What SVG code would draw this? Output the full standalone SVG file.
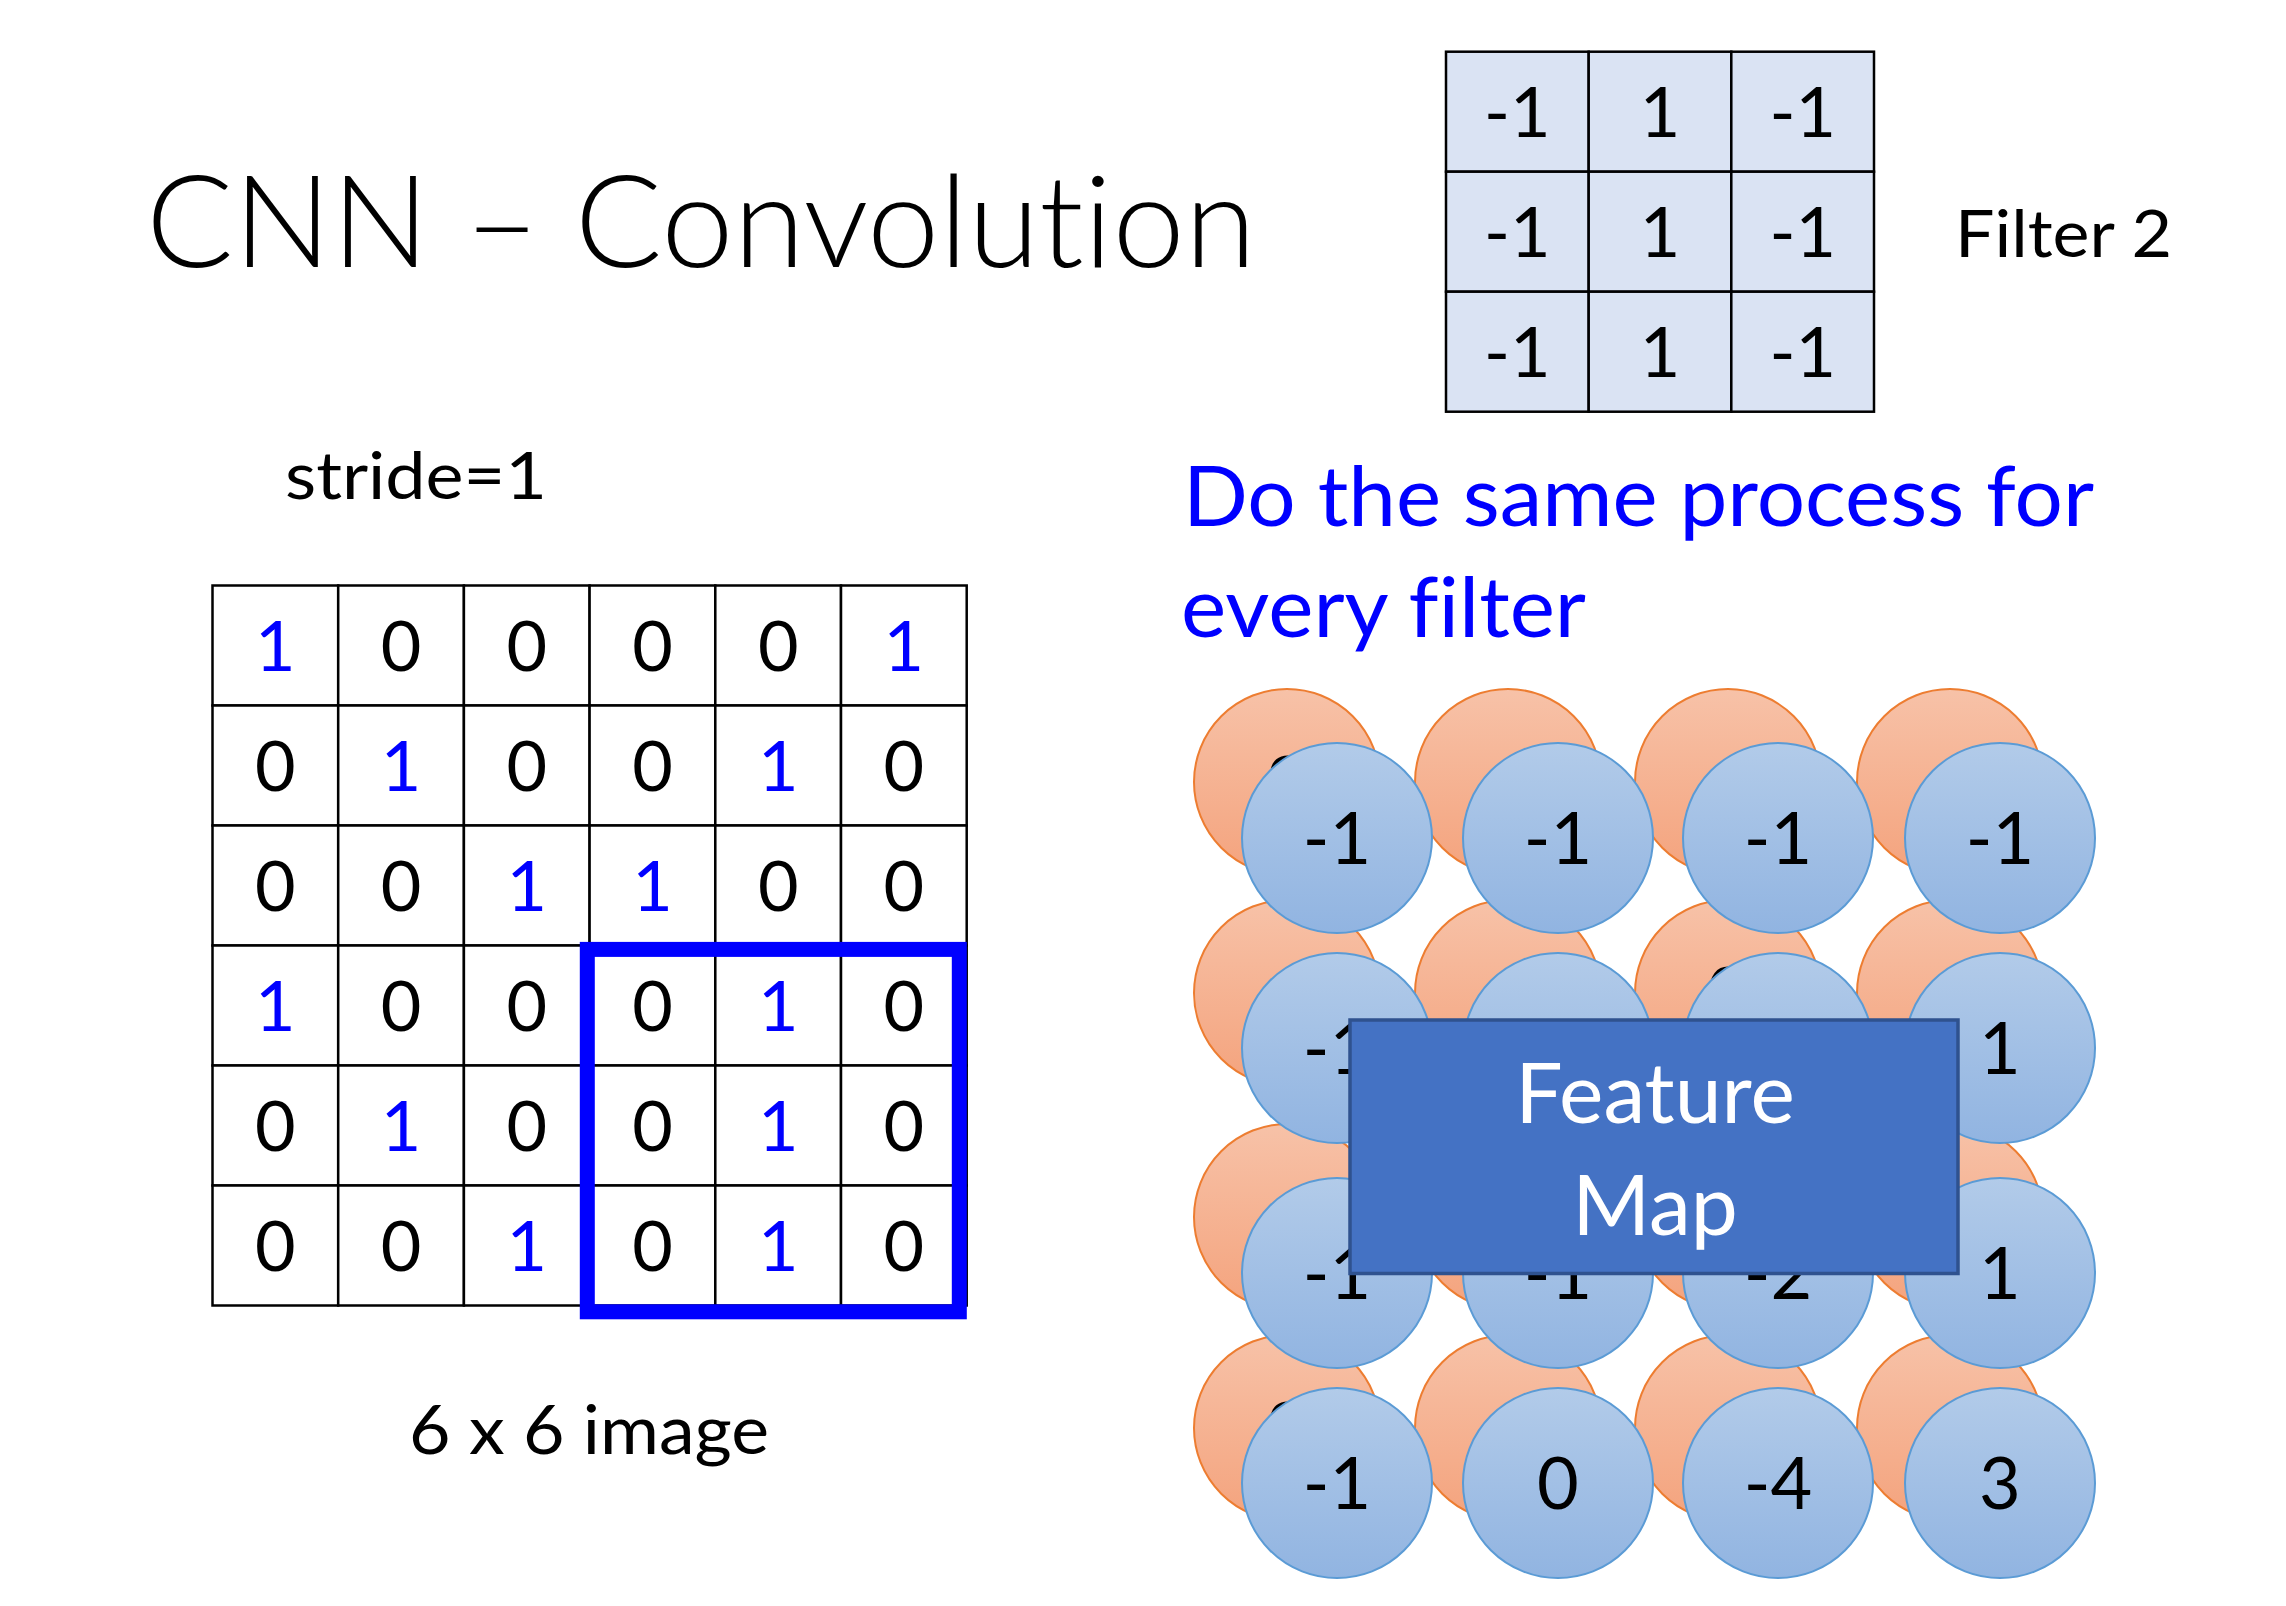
<svg xmlns="http://www.w3.org/2000/svg" width="2286" height="1606" viewBox="0 0 2286 1606">
  <defs>
    <linearGradient id="gradBlue" x1="0" y1="0" x2="0" y2="1">
      <stop offset="0" stop-color="#B2CBE9"/>
      <stop offset="1" stop-color="#91B4E1"/>
    </linearGradient>
    <linearGradient id="gradOrange" x1="0" y1="0" x2="0" y2="1">
      <stop offset="0" stop-color="#F7C2A8"/>
      <stop offset="1" stop-color="#F4A37D"/>
    </linearGradient>
    <style>
      .txt { font-family: Lato, "Open Sans", "Noto Sans", sans-serif; fill: #000; font-variant-ligatures: none; }
      .title { font-weight: 300; font-size: 128px; }
      .label { font-size: 66px; }
      .note { font-size: 83px; fill: #0000FF; }
      .num { font-size: 70px; text-anchor: middle; }
      .one { fill: #0000FF; }
      .cnum { font-size: 72px; text-anchor: middle; }
      .cell { fill: #FFFFFF; stroke: #000; stroke-width: 2.5; }
      .fcell { fill: #DAE3F3; stroke: #000; stroke-width: 2.5; }
      .orange { fill: url(#gradOrange); stroke: #ED7D31; stroke-width: 2; }
      .blue { fill: url(#gradBlue); stroke: #5B9BD5; stroke-width: 2; }
      .fmtext { font-size: 84px; fill: #FFFFFF; text-anchor: middle; }
    </style>
  </defs>

  <rect x="0" y="0" width="2286" height="1606" fill="#FFFFFF"/>

  <!-- headings -->
  <g id="title">
    <text class="txt title" x="146" y="267" textLength="1110" lengthAdjust="spacingAndGlyphs">CNN – Convolution</text>
  </g>
  <g id="stride-label">
    <text class="txt label" x="285" y="499" textLength="262" lengthAdjust="spacingAndGlyphs">stride=1</text>
  </g>
  <g id="note">
    <text class="txt note" x="1183" y="526" textLength="911" lengthAdjust="spacingAndGlyphs">Do the same process for</text>
    <text class="txt note" x="1181" y="637" textLength="405" lengthAdjust="spacingAndGlyphs">every filter</text>
  </g>
  <g id="image-label">
    <text class="txt label" x="409" y="1454" textLength="360" lengthAdjust="spacingAndGlyphs" style="font-size:68px">6 x 6 image</text>
  </g>

  <!-- 3x3 filter -->
  <g id="filter2">
    <rect class="fcell" x="1446" y="51.7" width="142.7" height="120"/>
    <rect class="fcell" x="1588.7" y="51.7" width="142.6" height="120"/>
    <rect class="fcell" x="1731.3" y="51.7" width="142.7" height="120"/>
    <rect class="fcell" x="1446" y="171.7" width="142.7" height="120"/>
    <rect class="fcell" x="1588.7" y="171.7" width="142.6" height="120"/>
    <rect class="fcell" x="1731.3" y="171.7" width="142.7" height="120"/>
    <rect class="fcell" x="1446" y="291.7" width="142.7" height="120"/>
    <rect class="fcell" x="1588.7" y="291.7" width="142.6" height="120"/>
    <rect class="fcell" x="1731.3" y="291.7" width="142.7" height="120"/>
    <text class="txt num" x="1517.3" y="136.7">-1</text>
    <text class="txt num" x="1660" y="136.7">1</text>
    <text class="txt num" x="1802.7" y="136.7">-1</text>
    <text class="txt num" x="1517.3" y="256.7">-1</text>
    <text class="txt num" x="1660" y="256.7">1</text>
    <text class="txt num" x="1802.7" y="256.7">-1</text>
    <text class="txt num" x="1517.3" y="376.7">-1</text>
    <text class="txt num" x="1660" y="376.7">1</text>
    <text class="txt num" x="1802.7" y="376.7">-1</text>
  </g>
  <g id="filter2-label">
    <text class="txt label" x="1955" y="256.7" textLength="217" lengthAdjust="spacingAndGlyphs">Filter 2</text>
  </g>

  <!-- 6x6 input image -->
  <g id="image">
    <g id="image-cells">
      <rect class="cell" x="212.5" y="585.5" width="125.7" height="120"/>
      <rect class="cell" x="338.2" y="585.5" width="125.7" height="120"/>
      <rect class="cell" x="463.9" y="585.5" width="125.7" height="120"/>
      <rect class="cell" x="589.6" y="585.5" width="125.7" height="120"/>
      <rect class="cell" x="715.3" y="585.5" width="125.7" height="120"/>
      <rect class="cell" x="841" y="585.5" width="125.7" height="120"/>
      <rect class="cell" x="212.5" y="705.5" width="125.7" height="120"/>
      <rect class="cell" x="338.2" y="705.5" width="125.7" height="120"/>
      <rect class="cell" x="463.9" y="705.5" width="125.7" height="120"/>
      <rect class="cell" x="589.6" y="705.5" width="125.7" height="120"/>
      <rect class="cell" x="715.3" y="705.5" width="125.7" height="120"/>
      <rect class="cell" x="841" y="705.5" width="125.7" height="120"/>
      <rect class="cell" x="212.5" y="825.5" width="125.7" height="120"/>
      <rect class="cell" x="338.2" y="825.5" width="125.7" height="120"/>
      <rect class="cell" x="463.9" y="825.5" width="125.7" height="120"/>
      <rect class="cell" x="589.6" y="825.5" width="125.7" height="120"/>
      <rect class="cell" x="715.3" y="825.5" width="125.7" height="120"/>
      <rect class="cell" x="841" y="825.5" width="125.7" height="120"/>
      <rect class="cell" x="212.5" y="945.5" width="125.7" height="120"/>
      <rect class="cell" x="338.2" y="945.5" width="125.7" height="120"/>
      <rect class="cell" x="463.9" y="945.5" width="125.7" height="120"/>
      <rect class="cell" x="589.6" y="945.5" width="125.7" height="120"/>
      <rect class="cell" x="715.3" y="945.5" width="125.7" height="120"/>
      <rect class="cell" x="841" y="945.5" width="125.7" height="120"/>
      <rect class="cell" x="212.5" y="1065.5" width="125.7" height="120"/>
      <rect class="cell" x="338.2" y="1065.5" width="125.7" height="120"/>
      <rect class="cell" x="463.9" y="1065.5" width="125.7" height="120"/>
      <rect class="cell" x="589.6" y="1065.5" width="125.7" height="120"/>
      <rect class="cell" x="715.3" y="1065.5" width="125.7" height="120"/>
      <rect class="cell" x="841" y="1065.5" width="125.7" height="120"/>
      <rect class="cell" x="212.5" y="1185.5" width="125.7" height="120"/>
      <rect class="cell" x="338.2" y="1185.5" width="125.7" height="120"/>
      <rect class="cell" x="463.9" y="1185.5" width="125.7" height="120"/>
      <rect class="cell" x="589.6" y="1185.5" width="125.7" height="120"/>
      <rect class="cell" x="715.3" y="1185.5" width="125.7" height="120"/>
      <rect class="cell" x="841" y="1185.5" width="125.7" height="120"/>
    </g>
    <g id="image-values">
      <text class="txt num one" x="275.4" y="670.5">1</text>
      <text class="txt num" x="401.1" y="670.5">0</text>
      <text class="txt num" x="526.8" y="670.5">0</text>
      <text class="txt num" x="652.5" y="670.5">0</text>
      <text class="txt num" x="778.2" y="670.5">0</text>
      <text class="txt num one" x="903.9" y="670.5">1</text>

      <text class="txt num" x="275.4" y="790.5">0</text>
      <text class="txt num one" x="401.1" y="790.5">1</text>
      <text class="txt num" x="526.8" y="790.5">0</text>
      <text class="txt num" x="652.5" y="790.5">0</text>
      <text class="txt num one" x="778.2" y="790.5">1</text>
      <text class="txt num" x="903.9" y="790.5">0</text>

      <text class="txt num" x="275.4" y="910.5">0</text>
      <text class="txt num" x="401.1" y="910.5">0</text>
      <text class="txt num one" x="526.8" y="910.5">1</text>
      <text class="txt num one" x="652.5" y="910.5">1</text>
      <text class="txt num" x="778.2" y="910.5">0</text>
      <text class="txt num" x="903.9" y="910.5">0</text>

      <text class="txt num one" x="275.4" y="1030.5">1</text>
      <text class="txt num" x="401.1" y="1030.5">0</text>
      <text class="txt num" x="526.8" y="1030.5">0</text>
      <text class="txt num" x="652.5" y="1030.5">0</text>
      <text class="txt num one" x="778.2" y="1030.5">1</text>
      <text class="txt num" x="903.9" y="1030.5">0</text>

      <text class="txt num" x="275.4" y="1150.5">0</text>
      <text class="txt num one" x="401.1" y="1150.5">1</text>
      <text class="txt num" x="526.8" y="1150.5">0</text>
      <text class="txt num" x="652.5" y="1150.5">0</text>
      <text class="txt num one" x="778.2" y="1150.5">1</text>
      <text class="txt num" x="903.9" y="1150.5">0</text>

      <text class="txt num" x="275.4" y="1270.5">0</text>
      <text class="txt num" x="401.1" y="1270.5">0</text>
      <text class="txt num one" x="526.8" y="1270.5">1</text>
      <text class="txt num" x="652.5" y="1270.5">0</text>
      <text class="txt num one" x="778.2" y="1270.5">1</text>
      <text class="txt num" x="903.9" y="1270.5">0</text>
    </g>
    <!-- current 3x3 receptive window -->
    <rect id="window" x="587.3" y="949.4" width="372" height="362.4" fill="none" stroke="#0000FF" stroke-width="15"/>
  </g>

  <!-- feature map of filter 1 (orange, behind); only the digits that peek out are drawn -->
  <g id="featuremap1">
    <circle class="orange" cx="1287" cy="782" r="93"/>
    <circle class="orange" cx="1508" cy="782" r="93"/>
    <circle class="orange" cx="1728" cy="782" r="93"/>
    <circle class="orange" cx="1950" cy="782" r="93"/>
    <circle class="orange" cx="1287" cy="993" r="93"/>
    <circle class="orange" cx="1508" cy="993" r="93"/>
    <circle class="orange" cx="1728" cy="993" r="93"/>
    <circle class="orange" cx="1950" cy="993" r="93"/>
    <circle class="orange" cx="1287" cy="1217" r="93"/>
    <circle class="orange" cx="1508" cy="1217" r="93"/>
    <circle class="orange" cx="1728" cy="1217" r="93"/>
    <circle class="orange" cx="1950" cy="1217" r="93"/>
    <circle class="orange" cx="1287" cy="1428" r="93"/>
    <circle class="orange" cx="1508" cy="1428" r="93"/>
    <circle class="orange" cx="1728" cy="1428" r="93"/>
    <circle class="orange" cx="1950" cy="1428" r="93"/>
    <text class="txt cnum" x="1287" y="807.5">3</text>
    <text class="txt cnum" x="1728" y="1018.5">0</text>
    <text class="txt cnum" x="1287" y="1453.5">3</text>
  </g>

  <!-- feature map of filter 2 (blue, front) -->
  <g id="featuremap2">
    <circle class="blue" cx="1337" cy="838" r="95"/>
    <circle class="blue" cx="1558" cy="838" r="95"/>
    <circle class="blue" cx="1778" cy="838" r="95"/>
    <circle class="blue" cx="2000" cy="838" r="95"/>
    <circle class="blue" cx="1337" cy="1048" r="95"/>
    <circle class="blue" cx="1558" cy="1048" r="95"/>
    <circle class="blue" cx="1778" cy="1048" r="95"/>
    <circle class="blue" cx="2000" cy="1048" r="95"/>
    <circle class="blue" cx="1337" cy="1273" r="95"/>
    <circle class="blue" cx="1558" cy="1273" r="95"/>
    <circle class="blue" cx="1778" cy="1273" r="95"/>
    <circle class="blue" cx="2000" cy="1273" r="95"/>
    <circle class="blue" cx="1337" cy="1483" r="95"/>
    <circle class="blue" cx="1558" cy="1483" r="95"/>
    <circle class="blue" cx="1778" cy="1483" r="95"/>
    <circle class="blue" cx="2000" cy="1483" r="95"/>
    <text class="txt cnum" x="1337" y="863.5">-1</text>
    <text class="txt cnum" x="1558" y="863.5">-1</text>
    <text class="txt cnum" x="1778" y="863.5">-1</text>
    <text class="txt cnum" x="2000" y="863.5">-1</text>
    <text class="txt cnum" x="1337" y="1073.5">-1</text>
    <text class="txt cnum" x="2000" y="1073.5">1</text>
    <text class="txt cnum" x="1337" y="1298.5">-1</text>
    <text class="txt cnum" x="1558" y="1298.5">-1</text>
    <text class="txt cnum" x="1778" y="1298.5">-2</text>
    <text class="txt cnum" x="2000" y="1298.5">1</text>
    <text class="txt cnum" x="1337" y="1508.5">-1</text>
    <text class="txt cnum" x="1558" y="1508.5">0</text>
    <text class="txt cnum" x="1778" y="1508.5">-4</text>
    <text class="txt cnum" x="2000" y="1508.5">3</text>
  </g>

  <g id="featuremap-label">
    <rect x="1350" y="1020" width="608" height="253.5" fill="#4472C4" stroke="#2F528F" stroke-width="3.5"/>
    <text class="txt fmtext" x="1655" y="1123">Feature</text>
    <text class="txt fmtext" x="1655" y="1235">Map</text>
  </g>
</svg>
